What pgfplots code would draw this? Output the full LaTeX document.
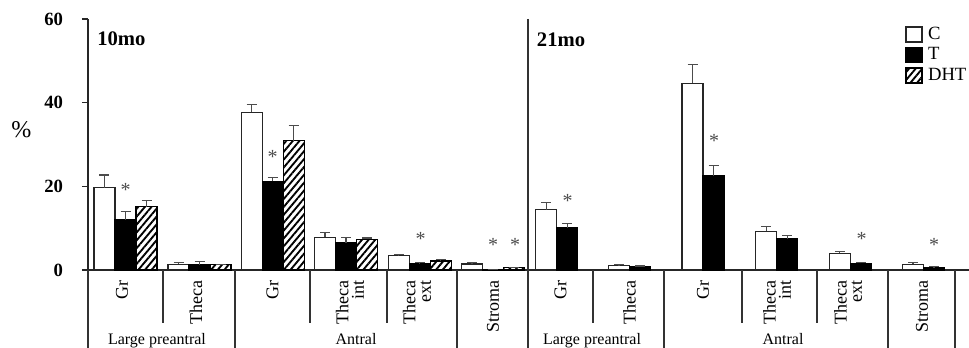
\documentclass[border=0pt]{standalone}
\usepackage{fontspec}
\setmainfont{Liberation Serif}
\usepackage{pgfplots}
\pgfplotsset{compat=1.18}
\usepackage{pgfplotstable}
\usetikzlibrary{patterns.meta}

\pgfplotstableread{
xc c ce xt t te xd d de
104.5 19.7 3.0 125.5 12.0 1.9 146.5 15.1 1.6
178.5 1.35 0.45 199.5 1.3 0.7 220.5 1.3 0.1
251.7 37.7 1.9 272.7 21.2 0.9 293.7 30.9 3.6
325 7.8 1.2 346 6.5 1.3 367 7.3 0.35
398.8 3.4 0.4 419.8 1.5 0.3 440.8 2.15 0.4
472 1.43 0.32 493 0.15 0.0 514 0.55 0.15
}\tenmo
\pgfplotstableread{
xc c ce xt t te
546.3 14.35 1.75 567.3 10.1 1.0
619 1.0 0.3 640 0.85 0.1
692.5 44.6 4.5 713.5 22.5 2.5
766.3 9.2 1.2 787.3 7.4 0.9
839.8 4.0 0.4 860.8 1.6 0.25
913 1.35 0.4 934 0.65 0.15
}\twentyonemo

\pgfplotsset{
  legbox/.style={/pgfplots/legend image code/.code={\draw[##1, line width=1.3pt] (0pt,-5.6pt) rectangle (12pt,5.6pt);}},
  errs/.style={error bars/.cd, y dir=plus, y explicit,
     error bar style={line width=0.8pt, black!70},
     error mark=-, error mark options={rotate=90, mark size=3.75pt, line width=0.8pt, black!70}},
  cC/.style={ybar, bar width=21, bar shift=0, fill=white, draw=black!85, line width=0.8pt, legbox},
  cT/.style={ybar, bar width=21, bar shift=0, fill=black, draw=black, line width=0.8pt, legbox},
  cD/.style={ybar, bar width=21, bar shift=0, draw=black, line width=0.8pt,
     postaction={pattern={Lines[angle=50,distance=3.8pt,line width=1.4pt]}}, fill=white, legbox},
}
\tikzset{
  lab/.style={rotate=90, anchor=east, inner sep=0pt, font=\fontsize{13.5}{11.5}\selectfont, align=right},
  grp/.style={anchor=base, inner sep=0pt, font=\fontsize{12}{12}\selectfont},
  ast/.style={inner sep=0pt, anchor=center, font=\fontsize{15}{15}\selectfont, black!70},
  sep/.style={line width=0.8pt, black!80},
}

\begin{document}
\begin{tikzpicture}
\begin{axis}[
  scale only axis, width=660.75pt, height=188.25pt,
  xmin=88, xmax=969, ymin=0, ymax=60,
  axis x line=bottom, axis y line=left,
  axis line style={-, line width=0.8pt, black!85},
  xtick=\empty, ytick={0,20,40,60},
  tick align=outside, major tick length=4.5pt,
  tick style={line width=0.8pt, black!85},
  /pgf/number format/assume math mode=true,
  yticklabel style={font=\bfseries\fontsize{14}{14}\selectfont, inner sep=0pt, xshift=-14pt},
  clip=false,
  ylabel={\%},
  ylabel style={rotate=-90, at={(axis description cs:-0.0755,0.558)}, anchor=center, font=\fontsize{18}{18}\selectfont},
  legend style={at={(axis description cs:0.927,0.973)}, anchor=north west, draw=none, fill=none,
     font=\fontsize{14}{14}\selectfont, row sep=3pt, column sep=4pt, inner sep=0pt,
     nodes={inner sep=0pt, anchor=west, text height=9.5pt, text depth=2.5pt}},
  legend cell align=left,
]
% 10 months
\addplot[cC, errs] table[x=xc, y=c, y error=ce] {\tenmo};
\addlegendentry{C}
\addplot[cT, errs] table[x=xt, y=t, y error=te] {\tenmo};
\addlegendentry{T}
\addplot[cD, errs] table[x=xd, y=d, y error=de] {\tenmo};
\addlegendentry{DHT}
% 21 months
\addplot[cC, forget plot, errs] table[x=xc, y=c, y error=ce] {\twentyonemo};
\addplot[cT, forget plot, errs] table[x=xt, y=t, y error=te] {\twentyonemo};

% separators
\draw[sep] (axis cs:88,0) -- (axis cs:88,-19);
\draw[sep] (axis cs:163,0) -- (axis cs:163,-12.67);
\draw[sep] (axis cs:235,0) -- (axis cs:235,-19);
\draw[sep] (axis cs:310,0) -- (axis cs:310,-12.67);
\draw[sep] (axis cs:387,0) -- (axis cs:387,-12.67);
\draw[sep] (axis cs:457,0) -- (axis cs:457,-19);
\draw[sep] (axis cs:528,60) -- (axis cs:528,-19);
\draw[sep] (axis cs:593,0) -- (axis cs:593,-12.67);
\draw[sep] (axis cs:664,0) -- (axis cs:664,-19);
\draw[sep] (axis cs:742,0) -- (axis cs:742,-12.67);
\draw[sep] (axis cs:817,0) -- (axis cs:817,-12.67);
\draw[sep] (axis cs:888,0) -- (axis cs:888,-19);
\draw[sep] (axis cs:955,0) -- (axis cs:955,-19);

% category labels
\node[lab] at (axis cs:122,-2.39) {Gr};
\node[lab] at (axis cs:196,-2.39) {Theca};
\node[lab] at (axis cs:272.5,-2.39) {Gr};
\node[lab] at (axis cs:350,-2.39) {Theca\\int};
\node[lab] at (axis cs:417,-2.39) {Theca\\ext};
\node[lab] at (axis cs:493,-2.39) {Stroma};
\node[lab] at (axis cs:560.5,-2.39) {Gr};
\node[lab] at (axis cs:629.5,-2.39) {Theca};
\node[lab] at (axis cs:703,-2.39) {Gr};
\node[lab] at (axis cs:777,-2.39) {Theca\\int};
\node[lab] at (axis cs:848,-2.39) {Theca\\ext};
\node[lab] at (axis cs:922,-2.39) {Stroma};

% group labels
\node[grp] at (axis cs:157,-17.93) {Large preantral};
\node[grp] at (axis cs:356,-17.93) {Antral};
\node[grp] at (axis cs:592,-17.93) {Large preantral};
\node[grp] at (axis cs:783,-17.93) {Antral};

% panel titles
\node[anchor=west, inner sep=0pt, font=\bfseries\fontsize{15.5}{15.5}\selectfont] at (axis cs:97,55.34) {10mo};
\node[anchor=west, inner sep=0pt, font=\bfseries\fontsize{15.5}{15.5}\selectfont] at (axis cs:536.7,55.1) {21mo};

% significance marks
\node[ast] at (axis cs:125.5,19.1) {*};
\node[ast] at (axis cs:272.7,27.1) {*};
\node[ast] at (axis cs:420.5,7.4) {*};
\node[ast] at (axis cs:493,6.1) {*};
\node[ast] at (axis cs:515,6.1) {*};
\node[ast] at (axis cs:567.5,16.6) {*};
\node[ast] at (axis cs:714,30.9) {*};
\node[ast] at (axis cs:861.5,7.4) {*};
\node[ast] at (axis cs:934,6.1) {*};

\coordinate (BL) at (axis cs:0,-18.65);
\coordinate (TR) at (axis cs:969,64.54);
\end{axis}
\pgfresetboundingbox
\path (BL) rectangle (TR);
\end{tikzpicture}
\end{document}
